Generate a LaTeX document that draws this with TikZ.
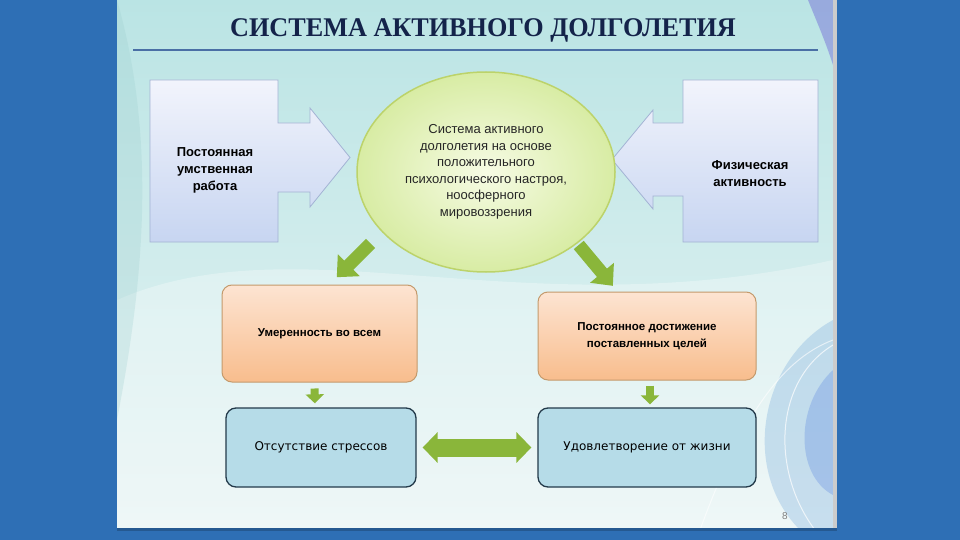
\documentclass[tikz,border=0pt]{standalone}
\usepackage{fontspec}
\setmainfont{Liberation Sans}
\newfontfamily\titlefont{Liberation Serif}
\newfontfamily\plainfont{DejaVu Sans}
\usetikzlibrary{shapes.geometric,arrows.meta}

\definecolor{frameblue}{HTML}{2E6FB5}
\definecolor{titlenavy}{HTML}{14234A}
\definecolor{rulecol}{HTML}{4A6FA5}
\definecolor{arrowgreen}{HTML}{8AB63A}
\definecolor{blocktop}{HTML}{F2F4FC}
\definecolor{blockbot}{HTML}{C7D5F1}
\definecolor{blockline}{HTML}{A3B3D4}
\definecolor{ovalin}{HTML}{F6FBE4}
\definecolor{ovalout}{HTML}{D8ECA4}
\definecolor{ovalline}{HTML}{BCD36A}
\definecolor{peachtop}{HTML}{FDE4D2}
\definecolor{peachbot}{HTML}{F8BD8D}
\definecolor{peachline}{HTML}{C49A6C}
\definecolor{skyfill}{HTML}{B6DCE8}
\definecolor{skyline}{HTML}{233A4A}
\definecolor{swirl}{HTML}{6FA6DA}

\begin{document}
\begin{tikzpicture}[x=1pt,y=-1pt,
    block/.style={draw=blockline,line width=0.8pt,top color=blocktop,bottom color=blockbot},
    blocktext/.style={font=\bfseries\fontsize{13}{17}\selectfont,align=center,text=black},
    oval/.style={ellipse,draw=ovalline,line width=1.5pt,inner color=ovalin,outer color=ovalout,
        minimum width=258pt,minimum height=200pt,inner sep=0pt,align=center,
        font=\fontsize{13}{16.5}\selectfont,text=black!85},
    peach/.style={rectangle,rounded corners=10pt,draw=peachline,line width=1pt,
        top color=peachtop,bottom color=peachbot,align=center,
        font=\bfseries\fontsize{11.5}{17}\selectfont},
    sky/.style={rectangle,rounded corners=10pt,draw=skyline,line width=1.3pt,fill=skyfill,
        minimum height=79pt,align=center,font=\plainfont\fontsize{12}{15}\selectfont},
    greenarrow/.style={draw=arrowgreen,line width=13pt,-{Triangle[width=30pt,length=17pt]}},
    smallarrow/.style={draw=arrowgreen,line width=8pt,-{Triangle[width=18pt,length=9pt]}},
    botharrow/.style={draw=arrowgreen,line width=18pt,
        {Triangle[width=30pt,length=15pt]}-{Triangle[width=30pt,length=15pt]}}]
\useasboundingbox (0,0) rectangle (960,540);

% Frame and slide
\fill[frameblue] (0,0) rectangle (960,540);
\shade[top color=cyan!22!teal!27,bottom color=cyan!6!teal!9] (117,0) rectangle (833,530);
\fill[white,opacity=0.3] (117,300) .. controls (300,220) and (520,330) .. (833,260)
    -- (833,530) -- (117,530) -- cycle;
\fill[teal!40,opacity=0.25] (117,0) .. controls (160,150) and (140,300) .. (117,420) -- cycle;
\fill[swirl,opacity=0.3] (833,320) .. controls (760,360) and (740,470) .. (800,530)
    -- (833,530) -- cycle;
\fill[swirl!80!blue,opacity=0.3] (833,370) .. controls (795,405) and (795,475) .. (833,495) -- cycle;
\draw[white,opacity=0.7,line width=1pt] (833,345) .. controls (775,380) and (770,470) .. (815,530);
\fill[blue!60!violet,opacity=0.25] (833,0) -- (808,0) .. controls (816,20) and (825,40) .. (833,65) -- cycle;
\draw[white,opacity=0.6,line width=1pt] (700,530) .. controls (740,420) and (780,360) .. (833,340);
\fill[gray!40] (833,0) rectangle (837,530);
\fill[frameblue!80!black] (117,528) rectangle (837,531);

% Title
\node[font=\titlefont\bfseries\fontsize{27}{30}\selectfont,text=titlenavy,xscale=0.97] (title)
    at (483,30) {СИСТЕМА АКТИВНОГО ДОЛГОЛЕТИЯ};
\draw[rulecol,line width=2.5pt] (133,50) -- (818,50);

% Left block
\draw[block] (150,80) -- (278,80) -- (278,123) -- (310,123) -- (310,108) -- (350,157.5)
    -- (310,207) -- (310,192) -- (278,192) -- (278,242) -- (150,242) -- cycle;
\node[blocktext] (work) at (215,170) {Постоянная\\умственная\\работа};

% Right block
\draw[block] (818,80) -- (683,80) -- (683,123) -- (653,123) -- (653,110) -- (612,159.5)
    -- (653,209) -- (653,196) -- (683,196) -- (683,242) -- (818,242) -- cycle;
\node[blocktext] (sport) at (750,174) {Физическая\\активность};

% Centre
\node[oval] (circ) at (486,172) {Система активного\\долголетия на основе\\положительного\\
    психологического настроя,\\ноосферного\\мировоззрения};

% Middle row
\node[peach,minimum width=195pt,minimum height=97pt] (mod) at (319.5,333.5) {Умеренность во всем};
\node[peach,minimum width=218pt,minimum height=88pt] (goals) at (647,336)
    {Постоянное достижение\\поставленных целей};

% Bottom row
\node[sky,minimum width=190pt] (stress) at (321,447.5) {Отсутствие стрессов};
\node[sky,minimum width=218pt] (life) at (647,447.5) {Удовлетворение от жизни};

% Arrows
\coordinate (modin) at (329,285);
\coordinate (goalsin) at (618,292);
\draw[greenarrow,shorten <=16pt,shorten >=11pt] (circ.210) -- (modin);
\draw[greenarrow,shorten <=2pt,shorten >=8pt] (circ.-38) -- (goalsin);
\draw[smallarrow,shorten <=6pt,shorten >=4pt] ([xshift=-5pt]mod.south) -- ([xshift=-6pt]stress.north);
\draw[smallarrow,shorten <=5pt,shorten >=3pt] ([xshift=3pt]goals.south) -- ([xshift=3pt]life.north);
\draw[botharrow,shorten <=6pt,shorten >=6pt] (stress) -- (life);

% Page number
\node[text=gray,font=\fontsize{10}{11}\selectfont] (page) at (785,516) {8};
\end{tikzpicture}
\end{document}
